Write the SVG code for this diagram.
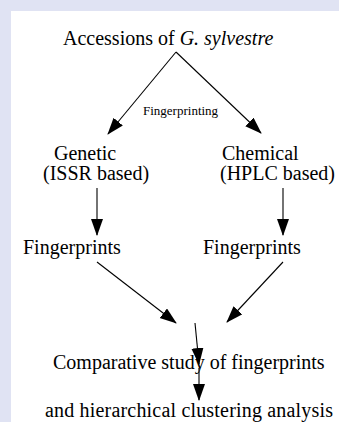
<svg xmlns="http://www.w3.org/2000/svg" width="339" height="422" viewBox="0 0 339 422">
<defs>
<style>
.t{font-family:"Liberation Serif","Times New Roman",serif;font-size:20px;fill:#000}
.s{font-size:13px}
.c{stroke:#000;stroke-width:1.1;fill:none;marker-end:url(#ah)}
</style>
<marker id="ah" markerUnits="userSpaceOnUse" markerWidth="18" markerHeight="14" refX="16" refY="6" orient="auto">
<path d="M0,0 L17,6 L0,12 z" fill="#000"/>
</marker>
</defs>
<rect x="0" y="0" width="339" height="422" fill="#e0e3f3"/>
<rect x="11" y="11" width="328" height="411" fill="#fff"/>
<g id="connectors">
<line class="c" x1="176" y1="52" x2="108" y2="134"/>
<line class="c" x1="176" y1="52" x2="261" y2="133"/>
<line class="c" x1="97" y1="188" x2="97" y2="235"/>
<line class="c" x1="283" y1="188" x2="283" y2="235"/>
<line class="c" x1="97" y1="262" x2="176" y2="323"/>
<line class="c" x1="283" y1="262" x2="227" y2="322"/>
<line class="c" x1="195" y1="323" x2="199" y2="364"/>
<line class="c" x1="199" y1="368" x2="199" y2="400"/>
</g>
<g id="accessions"><text class="t" x="63" y="45">Accessions of <tspan font-style="italic">G. sylvestre</tspan></text></g>
<g id="fingerprinting-label"><text class="t s" x="143" y="115">Fingerprinting</text></g>
<g id="genetic"><text class="t" x="54" y="160">Genetic</text><text class="t" x="43" y="180">(ISSR based)</text></g>
<g id="chemical"><text class="t" x="222" y="160">Chemical</text><text class="t" x="220" y="180">(HPLC based)</text></g>
<g id="fingerprints-left"><text class="t" x="23" y="254">Fingerprints</text></g>
<g id="fingerprints-right"><text class="t" x="203" y="254">Fingerprints</text></g>
<g id="comparative"><text class="t" x="53" y="369">Comparative study of fingerprints</text></g>
<g id="clustering"><text class="t" x="45" y="417" textLength="288" lengthAdjust="spacing">and hierarchical clustering analysis</text></g>
</svg>
